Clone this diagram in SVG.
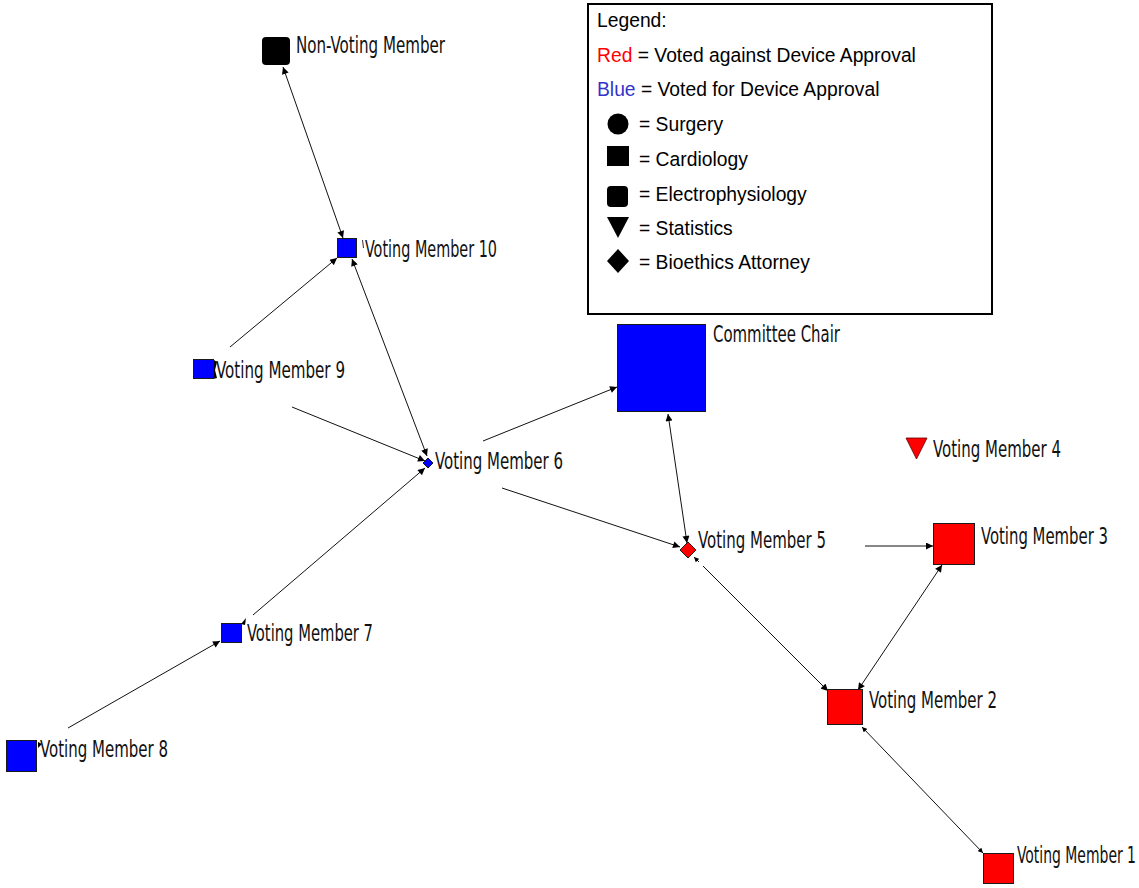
<svg xmlns="http://www.w3.org/2000/svg" width="1139" height="888" viewBox="0 0 1139 888">
<style>
.lbl{font-family:"Liberation Sans Narrow","DejaVu Sans Condensed","Liberation Sans",sans-serif;font-size:23px;fill:#111}
.lg{font-family:"Liberation Sans",Arial,sans-serif;font-size:19.3px;fill:#000}
.e{stroke:#111;stroke-width:1;fill:none}
.blue{fill:#0000FF;stroke:#1a1a1a;stroke-width:1}
.red{fill:#FF0000;stroke:#1a1a1a;stroke-width:1}
</style>
<defs>
<marker id="ah" viewBox="0 0 10 10" refX="10" refY="5" markerWidth="8" markerHeight="7" markerUnits="userSpaceOnUse" orient="auto-start-reverse">
<path d="M0,0 L10,5 L0,10 z" fill="#000"/>
</marker>
<marker id="as" viewBox="0 0 10 10" refX="10" refY="5" markerWidth="5" markerHeight="5" markerUnits="userSpaceOnUse" orient="auto-start-reverse">
<path d="M0,0 L10,5 L0,10 z" fill="#000"/>
</marker>
</defs>
<rect width="1139" height="888" fill="#fff"/>

<g id="connectors">
<line class="e" x1="283" y1="67" x2="343" y2="238" marker-start="url(#ah)" marker-end="url(#ah)"/>
<line class="e" x1="230" y1="347" x2="337" y2="258" marker-end="url(#ah)"/>
<line class="e" x1="352" y1="259" x2="427" y2="456" marker-start="url(#ah)" marker-end="url(#ah)"/>
<line class="e" x1="292" y1="407" x2="425" y2="461" marker-end="url(#ah)"/>
<line class="e" x1="253" y1="615" x2="425" y2="468" marker-end="url(#ah)"/>
<line class="e" x1="68" y1="728" x2="220" y2="641" marker-end="url(#ah)"/>
<line class="e" x1="483" y1="441" x2="617" y2="387" marker-end="url(#ah)"/>
<line class="e" x1="502" y1="488" x2="680" y2="547" marker-end="url(#ah)"/>
<line class="e" x1="668" y1="414" x2="687" y2="543" marker-start="url(#ah)" marker-end="url(#ah)"/>
<line class="e" x1="865" y1="546" x2="933" y2="546" marker-end="url(#ah)"/>
<line class="e" x1="942" y1="565" x2="858" y2="690" marker-start="url(#ah)" marker-end="url(#ah)"/>
<line class="e" x1="703" y1="566" x2="828" y2="691" marker-end="url(#ah)"/>
<line class="e" x1="699" y1="562" x2="694" y2="557" marker-end="url(#as)"/>
<line class="e" x1="862" y1="727" x2="983" y2="853" marker-start="url(#as)" marker-end="url(#as)"/>
<path d="M214,360 L217,362 L215,370 L217,378 L213,379 Z" fill="#000"/>
<path d="M241,624 L246,618 L245,625 Z" fill="#000"/>
<path d="M38,742 L42,744 L38,748 Z" fill="#000"/>
<path d="M362,240 L363,240 L364,248 L363,248 Z" fill="#333"/>
</g>

<g id="legend">
<rect x="588" y="4" width="404" height="310" fill="#fff" stroke="#000" stroke-width="2"/>
<text class="lg" x="597" y="27">Legend:</text>
<text class="lg" x="597" y="62"><tspan fill="#FF0000">Red</tspan> = Voted against Device Approval</text>
<text class="lg" x="597" y="96"><tspan fill="#3333CC">Blue</tspan> = Voted for Device Approval</text>
<circle cx="618" cy="124" r="10.5" fill="#000"/>
<text class="lg" x="639" y="131">= Surgery</text>
<rect x="607" y="146" width="22" height="20" fill="#000"/>
<text class="lg" x="639" y="166">= Cardiology</text>
<rect x="607" y="186" width="21" height="21" rx="4" fill="#000"/>
<text class="lg" x="639" y="201">= Electrophysiology</text>
<path d="M607,217 L629,217 L618,238 Z" fill="#000"/>
<text class="lg" x="639" y="235">= Statistics</text>
<path d="M618,249 L629,261 L618,273 L607,261 Z" fill="#000"/>
<text class="lg" x="639" y="269">= Bioethics Attorney</text>
</g>

<g id="non-voting">
<rect x="262" y="37" width="28" height="28" rx="4" fill="#000"/>
<text class="lbl" x="296" y="53" textLength="149" lengthAdjust="spacingAndGlyphs">Non-Voting Member</text>
</g>
<g id="vm10">
<rect class="blue" x="337.5" y="238.5" width="19" height="19"/>
<text class="lbl" x="365" y="257" textLength="132" lengthAdjust="spacingAndGlyphs">Voting Member 10</text>
</g>
<g id="vm9">
<rect class="blue" x="193.5" y="359.5" width="20" height="19"/>
<text class="lbl" x="216" y="378" textLength="129" lengthAdjust="spacingAndGlyphs">Voting Member 9</text>
</g>
<g id="vm6">
<path class="blue" d="M428,458 L433,463 L428,468 L423,463 Z"/>
<text class="lbl" x="435" y="469" textLength="128" lengthAdjust="spacingAndGlyphs">Voting Member 6</text>
</g>
<g id="chair">
<rect class="blue" x="617.5" y="324.5" width="88" height="87"/>
<text class="lbl" x="713" y="342" textLength="127" lengthAdjust="spacingAndGlyphs">Committee Chair</text>
</g>
<g id="vm4">
<path d="M906,438 L927,438 L916.5,459 Z" fill="#FF0000" stroke="#5a0000" stroke-width="0.8"/>
<text class="lbl" x="933" y="457" textLength="128" lengthAdjust="spacingAndGlyphs">Voting Member 4</text>
</g>
<g id="vm5">
<path class="red" d="M688,542 L696,550 L688,558 L680,550 Z"/>
<text class="lbl" x="698" y="548" textLength="128" lengthAdjust="spacingAndGlyphs">Voting Member 5</text>
</g>
<g id="vm3">
<rect class="red" x="933.5" y="523.5" width="41" height="41"/>
<text class="lbl" x="981" y="544" textLength="127" lengthAdjust="spacingAndGlyphs">Voting Member 3</text>
</g>
<g id="vm2">
<rect class="red" x="827.5" y="689.5" width="35" height="35"/>
<text class="lbl" x="869" y="708" textLength="128" lengthAdjust="spacingAndGlyphs">Voting Member 2</text>
</g>
<g id="vm1">
<rect class="red" x="983.5" y="853.5" width="30" height="30"/>
<text class="lbl" x="1017" y="863" textLength="119" lengthAdjust="spacingAndGlyphs">Voting Member 1</text>
</g>
<g id="vm7">
<rect class="blue" x="221.5" y="623.5" width="20" height="19"/>
<text class="lbl" x="247" y="641" textLength="126" lengthAdjust="spacingAndGlyphs">Voting Member 7</text>
</g>
<g id="vm8">
<rect class="blue" x="6.5" y="740.5" width="30" height="31"/>
<text class="lbl" x="40" y="757" textLength="128" lengthAdjust="spacingAndGlyphs">Voting Member 8</text>
</g>
</svg>
